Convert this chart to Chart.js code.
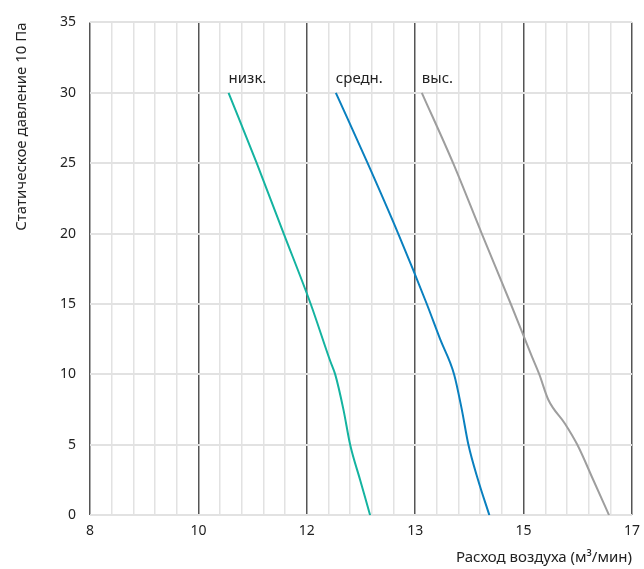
<!DOCTYPE html>
<html>
<head>
<meta charset="utf-8">
<script src="https://cdn.jsdelivr.net/npm/chart.js@4/dist/chart.umd.min.js"></script>
<style>
  html, body { margin: 0; padding: 0; background: #fff; }
  #wrap { width: 644px; height: 569px; position: relative; }
</style>
</head>
<body>
<div id="wrap"><canvas id="chart"></canvas></div>
<script>
// x is the position along the flow axis, in major divisions (0..5)
const xTickLabels = ['8', '10', '12', '13', '15', '17'];

const lowX = [1.278, 1.538, 1.787, 2.036, 2.216, 2.262, 2.338, 2.400, 2.492, 2.584];
const lowY = [30, 25, 20, 15, 10.95, 10, 7.5, 5, 2.5, 0];

const midX = [2.268, 2.561, 2.843, 3.107, 3.230, 3.359, 3.430, 3.491, 3.580, 3.684];
const midY = [30, 25, 20, 15, 12.5, 10, 7.5, 5, 2.5, 0];

const highX = [3.061, 3.350, 3.614, 3.882, 4.075, 4.145, 4.228, 4.382, 4.496, 4.643, 4.788];
const highY = [30, 25, 20, 15, 11.3, 10, 8.2, 6.5, 5, 2.5, 0];

const seriesNames = ['низк.', 'средн.', 'выс.'];
const seriesColors = ['#14b3a0', '#0a80bf', '#9e9e9e'];

const FONT = "'Noto Sans', 'Open Sans', sans-serif";

function toPoints(xs, ys) {
  return xs.map((x, i) => ({ x, y: ys[i] }));
}

const lineLabels = {
  id: 'lineLabels',
  afterDatasetsDraw(chart) {
    const ctx = chart.ctx;
    ctx.save();
    ctx.font = '15px ' + FONT;
    ctx.fillStyle = '#222';
    ctx.textAlign = 'left';
    ctx.textBaseline = 'bottom';
    chart.data.datasets.forEach((ds, i) => {
      const pt = chart.getDatasetMeta(i).data[0];
      if (pt) ctx.fillText(ds.label, pt.x, pt.y - 7);
    });
    ctx.restore();
  },
};

const datasets = [
  toPoints(lowX, lowY),
  toPoints(midX, midY),
  toPoints(highX, highY),
].map((data, i) => ({
  label: seriesNames[i],
  data,
  showLine: true,
  borderColor: seriesColors[i],
  borderWidth: 2,
  pointRadius: 0,
  cubicInterpolationMode: 'monotone',
  fill: false,
}));

function isMajor(c) {
  const v = c.tick ? c.tick.value : 0;
  return Math.abs(v - Math.round(v)) < 1e-6;
}

new Chart(document.getElementById('chart'), {
  type: 'scatter',
  data: { datasets },
  options: {
    responsive: true,
    maintainAspectRatio: false,
    animation: false,
    layout: { padding: { top: 20, right: 12, left: 13, bottom: 2 } },
    plugins: {
      legend: { display: false },
      tooltip: { enabled: false },
    },
    scales: {
      x: {
        type: 'linear',
        min: 0,
        max: 5,
        afterFit: (s) => { s.paddingRight = 0; },
        ticks: {
          stepSize: 0.2,
          autoSkip: false,
          maxRotation: 0,
          color: '#222',
          font: { family: FONT, size: 14 },
          padding: 7,
          callback: (v) => {
            const r = Math.round(v);
            return Math.abs(v - r) < 1e-6 ? xTickLabels[r] : '';
          },
        },
        grid: {
          drawTicks: false,
          color: (c) => (isMajor(c) ? '#555' : '#e2e2e2'),
          lineWidth: 1.5,
        },
        border: { display: false },
        title: {
          display: true,
          text: 'Расход воздуха (м³/мин)',
          align: 'end',
          color: '#222',
          font: { family: FONT, size: 15 },
          padding: { top: 3, bottom: 0 },
        },
      },
      y: {
        min: 0,
        max: 35,
        ticks: {
          stepSize: 5,
          color: '#222',
          font: { family: FONT, size: 14 },
          padding: 14,
        },
        grid: {
          drawTicks: false,
          color: '#e2e2e2',
          lineWidth: 2,
        },
        border: { display: false },
        title: {
          display: true,
          text: 'Статическое давление 10 Па',
          align: 'end',
          color: '#222',
          font: { family: FONT, size: 15 },
          padding: { top: 0, bottom: 15 },
        },
      },
    },
  },
  plugins: [lineLabels],
});
</script>
</body>
</html>
